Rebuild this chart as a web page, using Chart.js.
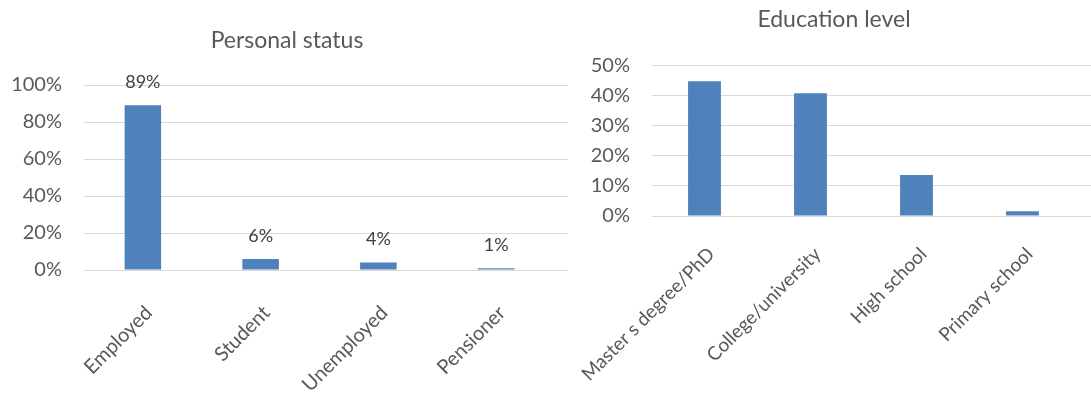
<!DOCTYPE html>
<html>
<head>
<meta charset="utf-8">
<title>Personal status and education level</title>
<script src="https://cdn.jsdelivr.net/npm/chart.js@4.4.1/dist/chart.umd.min.js"></script>
<style>
  body { margin: 0; background: #fff; }
  .panel { position: absolute; top: 0; }
  #panel-status { left: 0; }
  #panel-education { left: 568px; }
</style>
</head>
<body>
<div class="panel" id="panel-status"><canvas id="chart-status" width="568" height="394"></canvas></div>
<div class="panel" id="panel-education"><canvas id="chart-education" width="523" height="394"></canvas></div>
<script>
const statusLabels = ["Employed", "Student", "Unemployed", "Pensioner"];
const statusValues = [89, 6, 4, 1];
const statusTicks = [0, 20, 40, 60, 80, 100];

const educationLabels = ["Master s degree/PhD", "College/university", "High school", "Primary school"];
const educationValues = [44.8, 40.8, 13.6, 1.6];
const educationTicks = [0, 10, 20, 30, 40, 50];

const FONT = "Lato, 'Open Sans', sans-serif";
const TEXT = "#595959";
const GRID = "#d9d9d9";
const BLUE = "#4f81bd";

// carry the horizontal gridlines past the plot area to the canvas edge
const gridTail = {
  id: "gridTail",
  beforeDatasetsDraw(chart) {
    const { ctx, chartArea, scales } = chart;
    ctx.save();
    ctx.strokeStyle = GRID;
    ctx.lineWidth = 1;
    scales.y.ticks.forEach(t => {
      const py = Math.round(scales.y.getPixelForValue(t.value) - 0.5) + 0.5;
      ctx.beginPath();
      ctx.moveTo(chartArea.right, py);
      ctx.lineTo(chart.width, py);
      ctx.stroke();
    });
    ctx.restore();
  }
};

// title placed freely (the built-in one centres over the whole canvas)
const panelTitle = {
  id: "panelTitle",
  afterDraw(chart, args, opts) {
    const { ctx } = chart;
    ctx.save();
    ctx.font = "23px " + FONT;
    ctx.fillStyle = TEXT;
    ctx.textAlign = "center";
    ctx.textBaseline = "middle";
    ctx.fillText(opts.text, opts.x, opts.y);
    ctx.restore();
  }
};

// percentage printed above each bar
const valueLabels = {
  id: "valueLabels",
  afterDatasetsDraw(chart) {
    const { ctx } = chart;
    const values = chart.data.datasets[0].data;
    ctx.save();
    ctx.font = "18px " + FONT;
    ctx.fillStyle = "#404040";
    ctx.textAlign = "center";
    ctx.textBaseline = "middle";
    chart.getDatasetMeta(0).data.forEach((bar, i) => {
      ctx.fillText(values[i] + "%", bar.x, bar.y - 23);
    });
    ctx.restore();
  }
};

function barChart(canvasId, o) {
  return new Chart(document.getElementById(canvasId), {
    type: "bar",
    data: {
      labels: o.labels,
      datasets: [{
        data: o.values,
        backgroundColor: BLUE,
        barPercentage: 0.31,
        categoryPercentage: 1
      }]
    },
    options: {
      responsive: false,
      animation: false,
      layout: { padding: { left: 0, right: o.padRight, top: o.padTop, bottom: 0 } },
      plugins: {
        legend: { display: false },
        tooltip: { enabled: false },
        panelTitle: { text: o.title, x: o.titleX, y: o.titleY }
      },
      scales: {
        x: {
          grid: { display: false },
          border: { display: false },
          ticks: {
            color: TEXT,
            font: { family: FONT, size: o.xFont },
            minRotation: 45,
            maxRotation: 45,
            autoSkip: false,
            padding: o.xPad,
            labelOffset: o.xShift
          },
          afterFit: s => {
            s.height = o.xHeight;
            s.paddingLeft = 0;
            s.paddingRight = 0;
          }
        },
        y: {
          min: o.ticks[0],
          max: o.ticks[o.ticks.length - 1],
          ticks: {
            stepSize: o.ticks[1] - o.ticks[0],
            callback: v => v + "%",
            color: TEXT,
            font: { family: FONT, size: 20 },
            padding: o.yPad
          },
          grid: { color: GRID, drawTicks: false },
          border: { display: false },
          afterFit: s => { s.width = o.yWidth; }
        }
      }
    },
    plugins: [gridTail, panelTitle].concat(o.plugins || [])
  });
}

function init() {
  barChart("chart-status", {
    title: "Personal status", titleX: 287, titleY: 41,
    labels: statusLabels,
    values: statusValues,
    ticks: statusTicks,
    padTop: 85, padRight: 13, yWidth: 84, yPad: 22,
    xHeight: 124, xPad: 23, xShift: 6, xFont: 20,
    plugins: [valueLabels]
  });

  barChart("chart-education", {
    title: "Education level", titleX: 266, titleY: 20,
    labels: educationLabels,
    values: educationValues,
    ticks: educationTicks,
    padTop: 65.7, padRight: 15.5, yWidth: 83.5, yPad: 21.5,
    xHeight: 178, xPad: 19, xShift: 7, xFont: 19
  });
}

document.fonts.load("20px Lato").then(init, init);
</script>
</body>
</html>
